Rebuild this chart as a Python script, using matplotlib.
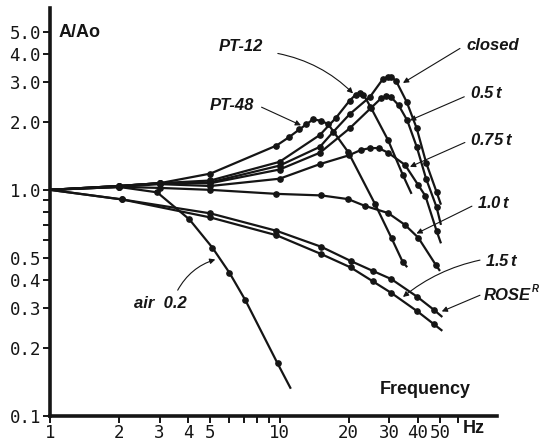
import matplotlib
matplotlib.use('Agg')
import matplotlib.pyplot as plt
from matplotlib.ticker import FixedLocator, NullFormatter

# frequency (Hz) and A/Ao
# first point is the common start at 1 Hz, last point is where the line stops
freq_closed = [1, 2, 3, 5, 10, 15, 17.1, 20.2, 24.8, 28.2, 29.6, 30.6, 32.2, 35.8, 39.6, 43.6, 48.3, 50.5]
amp_closed = [1.0, 1.04, 1.07, 1.08, 1.28, 1.55, 1.80, 2.16, 2.58, 3.09, 3.16, 3.16, 3.03, 2.45, 1.87, 1.31, 0.98, 0.86]

freq_05t = [1, 2, 3, 5, 10, 15, 20.2, 25, 27.7, 29.2, 30.5, 33, 36, 39.6, 43.5, 48.3, 50.5]
amp_05t = [1.0, 1.04, 1.07, 1.07, 1.23, 1.46, 1.87, 2.30, 2.54, 2.60, 2.58, 2.37, 2.03, 1.55, 1.12, 0.84, 0.70]

freq_075t = [1, 2, 3, 5, 10, 15, 20, 22.6, 24.8, 27, 29.7, 35.2, 40.2, 43.2, 48.3, 50.5]
amp_075t = [1.0, 1.03, 1.06, 1.04, 1.12, 1.30, 1.42, 1.50, 1.53, 1.53, 1.46, 1.29, 1.05, 0.94, 0.66, 0.58]

freq_pt12 = [1, 2, 3, 5, 10, 15, 17.6, 20.2, 21.5, 22.4, 23.2, 24.9, 29.7, 34.5, 37.6]
amp_pt12 = [1.0, 1.04, 1.07, 1.10, 1.33, 1.75, 2.08, 2.48, 2.64, 2.67, 2.64, 2.33, 1.66, 1.16, 0.96]

freq_pt48 = [1, 2, 3, 5, 9.7, 11, 12.2, 13.1, 14.0, 15.2, 16.3, 19.9, 26.0, 30.8, 34.4, 36]
amp_pt48 = [1.0, 1.04, 1.07, 1.18, 1.57, 1.71, 1.85, 1.95, 2.05, 2.02, 1.95, 1.47, 0.87, 0.61, 0.48, 0.455]

freq_10t = [1, 2, 3, 5, 9.7, 15.2, 19.9, 23.5, 29.7, 35.2, 40.2, 48, 50]
amp_10t = [1.0, 1.03, 1.02, 1.0, 0.96, 0.945, 0.91, 0.85, 0.79, 0.70, 0.615, 0.465, 0.438]

freq_air = [1, 2, 2.93, 4.05, 5.1, 6.05, 7.1, 9.8, 11.2]
amp_air = [1.0, 1.03, 0.975, 0.74, 0.555, 0.43, 0.325, 0.171, 0.132]

freq_rose = [1, 2.06, 5, 9.7, 15.2, 20.4, 25.5, 30.7, 39.9, 47.2, 51.2]
amp_rose = [1.0, 0.907, 0.787, 0.659, 0.56, 0.485, 0.438, 0.403, 0.336, 0.294, 0.274]

freq_15t = [1, 2.06, 5, 9.7, 15.2, 20.4, 25.5, 30.7, 39.9, 47.2, 51.2]
amp_15t = [1.0, 0.907, 0.755, 0.63, 0.52, 0.454, 0.394, 0.35, 0.29, 0.254, 0.238]

x_ticks = [1, 2, 3, 4, 5, 10, 20, 30, 40, 50]
x_tick_labels = ['1', '2', '3', '4', '5', '10', '20', '30', '40', '50']
x_minor = [6, 7, 8, 9, 60]
y_ticks = [0.1, 0.2, 0.3, 0.4, 0.5, 1.0, 2.0, 3.0, 4.0, 5.0]
y_tick_labels = ['0.1', '0.2', '0.3', '0.4', '0.5', '1.0', '2.0', '3.0', '4.0', '5.0']
y_minor = [0.6, 0.7, 0.8, 0.9]

curves = [
    (freq_closed, amp_closed),
    (freq_05t, amp_05t),
    (freq_075t, amp_075t),
    (freq_pt12, amp_pt12),
    (freq_pt48, amp_pt48),
    (freq_10t, amp_10t),
    (freq_air, amp_air),
    (freq_rose, amp_rose),
    (freq_15t, amp_15t),
]

ink = '#151515'

fig = plt.figure(figsize=(5.41, 4.47), dpi=100)
ax = fig.add_axes([50 / 541, 31 / 447, 447 / 541, 408 / 447])
ax.set_xscale('log')
ax.set_yscale('log')
ax.set_xlim(1, 88.6)
ax.set_ylim(0.1, 6.37)

for fx, fy in curves:
    ax.plot(fx, fy, color=ink, lw=1.6, marker='o', ms=3.8,
            markevery=list(range(1, len(fx) - 1)), solid_capstyle='butt')

ax.xaxis.set_major_locator(FixedLocator(x_ticks))
ax.xaxis.set_minor_locator(FixedLocator(x_minor))
ax.set_xticklabels(x_tick_labels)
ax.xaxis.set_minor_formatter(NullFormatter())
ax.yaxis.set_major_locator(FixedLocator(y_ticks))
ax.yaxis.set_minor_locator(FixedLocator(y_minor))
ax.set_yticklabels(y_tick_labels)
ax.yaxis.set_minor_formatter(NullFormatter())

for s in ['top', 'right']:
    ax.spines[s].set_visible(False)
for s in ['left', 'bottom']:
    ax.spines[s].set_linewidth(2.6)
    ax.spines[s].set_color(ink)

ax.tick_params(which='both', direction='out', length=5, width=1.4, color=ink)
ax.tick_params(axis='y', pad=1.5)
ax.tick_params(axis='x', pad=0.5)
for lab in ax.get_xticklabels() + ax.get_yticklabels():
    lab.set_family('DejaVu Sans Mono')
    lab.set_fontsize(12.5)
    lab.set_color(ink)

lab_font = dict(family='Liberation Sans', weight='bold', style='italic', fontsize=12, color=ink)
head = dict(arrowstyle='-|>', color=ink, lw=0.8, mutation_scale=8, shrinkA=0, shrinkB=0)

ax.text(1.095, 4.94, 'A/Ao', family='Liberation Sans', weight='bold', fontsize=13, color=ink, va='center')
ax.text(27.3, 0.131, 'Frequency', family='Liberation Sans', weight='bold', fontsize=13, color=ink, va='center')
ax.text(70.3, 0.088, 'Hz', family='Liberation Sans', weight='bold', fontsize=13, color=ink,
        va='center', ha='center', clip_on=False)

# labels with pointer lines
ax.text(5.42, 4.32, 'PT-12', va='center', **lab_font)
ax.annotate('', xy=(20.9, 2.67), xytext=(9.83, 4.01),
            arrowprops=dict(connectionstyle='arc3,rad=-0.15', **head))
ax.text(4.95, 2.37, 'PT-48', va='center', **lab_font)
ax.annotate('', xy=(12.4, 1.93), xytext=(8.35, 2.32), arrowprops=dict(**head))
ax.text(65.3, 4.34, 'closed', va='center', **lab_font)
ax.annotate('', xy=(34.5, 2.97), xytext=(61.1, 4.22), arrowprops=dict(**head))
ax.text(67.6, 2.67, '0.5$\\,$t', va='center', **lab_font)
ax.annotate('', xy=(37.0, 2.03), xytext=(63.8, 2.58), arrowprops=dict(**head))
ax.text(67.6, 1.66, '0.75$\\,$t', va='center', **lab_font)
ax.annotate('', xy=(37.0, 1.264), xytext=(64.2, 1.62), arrowprops=dict(**head))
ax.text(72.3, 0.873, '1.0$\\,$t', va='center', **lab_font)
ax.annotate('', xy=(39.5, 0.641), xytext=(68.9, 0.847), arrowprops=dict(**head))
ax.text(78.6, 0.484, '1.5$\\,$t', va='center', clip_on=False, **lab_font)
ax.annotate('', xy=(34.5, 0.336), xytext=(74.7, 0.489),
            arrowprops=dict(connectionstyle='arc3,rad=0.12', **head))
rose = ax.text(77.2, 0.34, 'ROSE', va='center', clip_on=False, **lab_font)
ax.annotate('R', xy=(1.0, 0.95), xycoords=rose, xytext=(1, 0), textcoords='offset points',
            va='center', ha='left', family='Liberation Sans', weight='bold', style='italic',
            fontsize=7, color=ink, annotation_clip=False)
ax.annotate('', xy=(50.9, 0.29), xytext=(74.7, 0.342), arrowprops=dict(**head))
ax.text(2.33, 0.3136, 'air  0.2', va='center', **lab_font)
ax.annotate('', xy=(5.25, 0.492), xytext=(3.6, 0.36),
            arrowprops=dict(connectionstyle='arc3,rad=-0.2', **head))

fig.savefig('out.png', dpi=100)
